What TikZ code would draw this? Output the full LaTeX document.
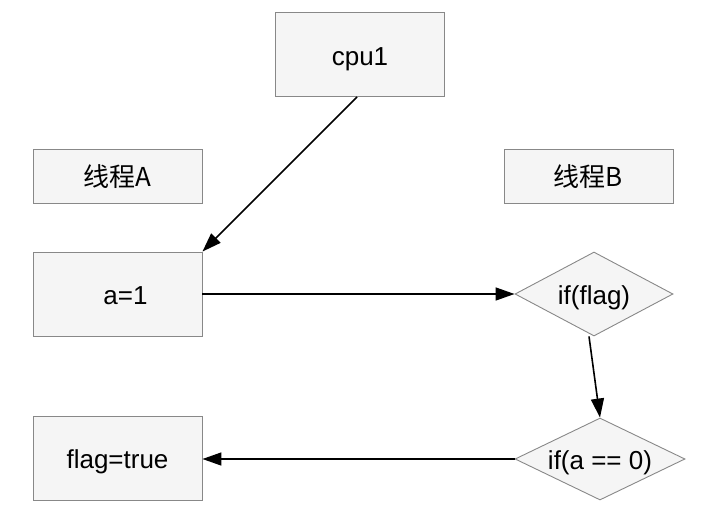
\documentclass[tikz,border=0pt]{standalone}
\usepackage{fontspec}
\setmainfont{Liberation Sans}
\newfontfamily\cjk{Noto Sans CJK SC}
\usetikzlibrary{shapes.geometric,arrows.meta}
\definecolor{boxfill}{HTML}{F5F5F5}
\definecolor{boxline}{HTML}{888888}
\tikzset{
  txt/.style={font=\fontsize{26}{29}\selectfont, text height=23pt, text depth=2pt},
  box/.style={draw=boxline, fill=boxfill, line width=0.9pt, minimum width=169pt, minimum height=84pt, inner sep=0pt, txt},
  lbl/.style={box, minimum height=54pt},
  dia/.style={diamond, aspect=1.9, draw=boxline, fill=boxfill, line width=0.9pt, inner sep=0pt, txt},
  conn/.style={line width=1.6pt, -{Triangle[length=19pt,width=13pt]}}
}
\begin{document}
\begin{tikzpicture}[x=1pt,y=-1pt]
\useasboundingbox (0,0) rectangle (710,530);
\node[box] (cpu) at (360,54.5) {cpu1};
\node[lbl] (ta) at (117.5,176) {\cjk 线程A};
\node[lbl] (tb) at (588.5,176) {\cjk 线程B};
\node[box] (a1) at (117.5,294) {\hspace{16pt}a=1};
\node[box] (ft) at (117.5,458) {flag=true};
\node[dia, minimum width=158pt, minimum height=84pt] (if1) at (594,294) {if(flag)};
\node[dia, minimum width=170pt, minimum height=82pt] (if2) at (600,459) {if(a == 0)};
\draw[conn] ([xshift=-3pt]cpu.south) -- (a1.north east);
\draw[conn] (a1.east) -- (if1.west);
\draw[conn] ([xshift=-5pt]if1.south) -- (if2.north);
\draw[conn] (if2.west) -- ([yshift=-1pt]ft.east);
\end{tikzpicture}
\end{document}
